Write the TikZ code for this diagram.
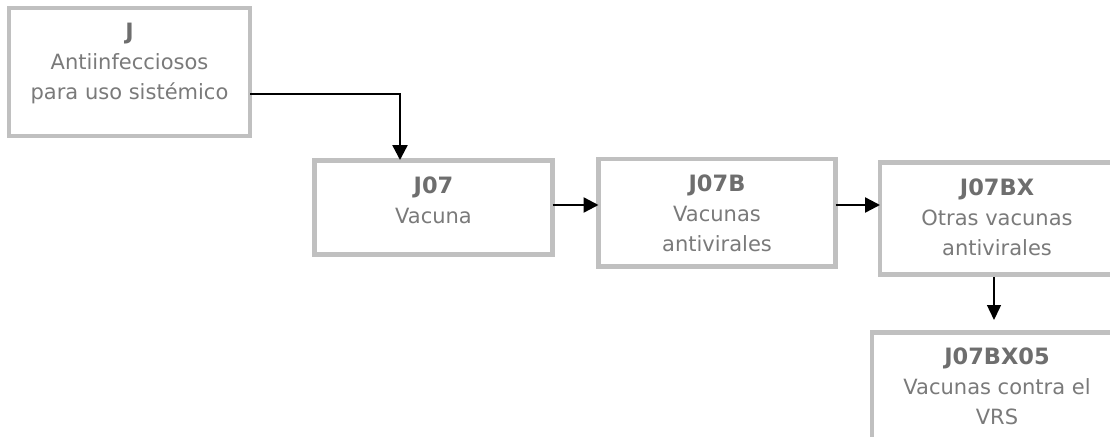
\documentclass[tikz,border=0pt]{standalone}
\usepackage{fontspec}
\setmainfont{DejaVu Sans}
\usetikzlibrary{arrows.meta}
\definecolor{boxline}{HTML}{C0C0C0}
\definecolor{boxtext}{HTML}{7A7A7A}
\definecolor{boxhead}{HTML}{6E6E6E}
\tikzset{
  atcbox/.style={draw=boxline, line width=4.2pt, fill=white},
  atctext/.style={anchor=north, align=center, inner sep=0pt, text=boxtext,
    font=\fontsize{21}{30}\selectfont},
  link/.style={draw=black, line width=2.4pt, -{Triangle[length=15pt,width=15pt]}},
  thinlink/.style={draw=black, line width=1.4pt, -{Triangle[length=15pt,width=14pt]}},
}
\newcommand{\hd}[1]{{\fontsize{22.5}{30}\selectfont\bfseries\color{boxhead}#1}}
\begin{document}
\begin{tikzpicture}[x=1pt,y=-1pt]
  \useasboundingbox (0,0) rectangle (1110,436);
  \clip (0,0) rectangle (1110,436);
  % category boxes
  \path[atcbox] (9,8) rectangle (250,136);
  \path[atcbox] (314.5,160.5) rectangle (552.5,254.5);
  \path[atcbox] (598.5,159) rectangle (835.5,266.5);
  \path[atcbox] (880,162.5) rectangle (1114,274.5);
  \path[atcbox] (872,332.5) rectangle (1122,470);
  % anchors on the box edges
  \coordinate (jE) at (250,94);
  \coordinate (bend) at (400,94);
  \coordinate (j07N) at (400,160);
  \coordinate (j07E) at (552.5,205);
  \coordinate (j07bW) at (598.5,205);
  \coordinate (j07bE) at (835.5,205);
  \coordinate (j07bxW) at (880,205);
  \coordinate (j07bxS) at (994,277);
  \coordinate (j07bx05N) at (994,320);
  % labels
  \node[atctext] (tj) at (129.5,22.5) {\hd{J}\\Antiinfecciosos\\para uso sistémico};
  \node[atctext] (tj07) at (433.5,176.5) {\hd{J07}\\Vacuna};
  \node[atctext] (tj07b) at (717,174.5) {\hd{J07B}\\Vacunas\\antivirales};
  \node[atctext] (tj07bx) at (997,178.5) {\hd{J07BX}\\Otras vacunas\\antivirales};
  \node[atctext] (tj07bx05) at (997,347.5) {\hd{J07BX05}\\Vacunas contra el\\VRS};
  % connectors
  \draw[link] (jE) -- (bend) -- (j07N);
  \draw[link] (j07E) -- (j07bW);
  \draw[link] (j07bE) -- (j07bxW);
  \draw[thinlink] (j07bxS) -- (j07bx05N);
\end{tikzpicture}
\end{document}
